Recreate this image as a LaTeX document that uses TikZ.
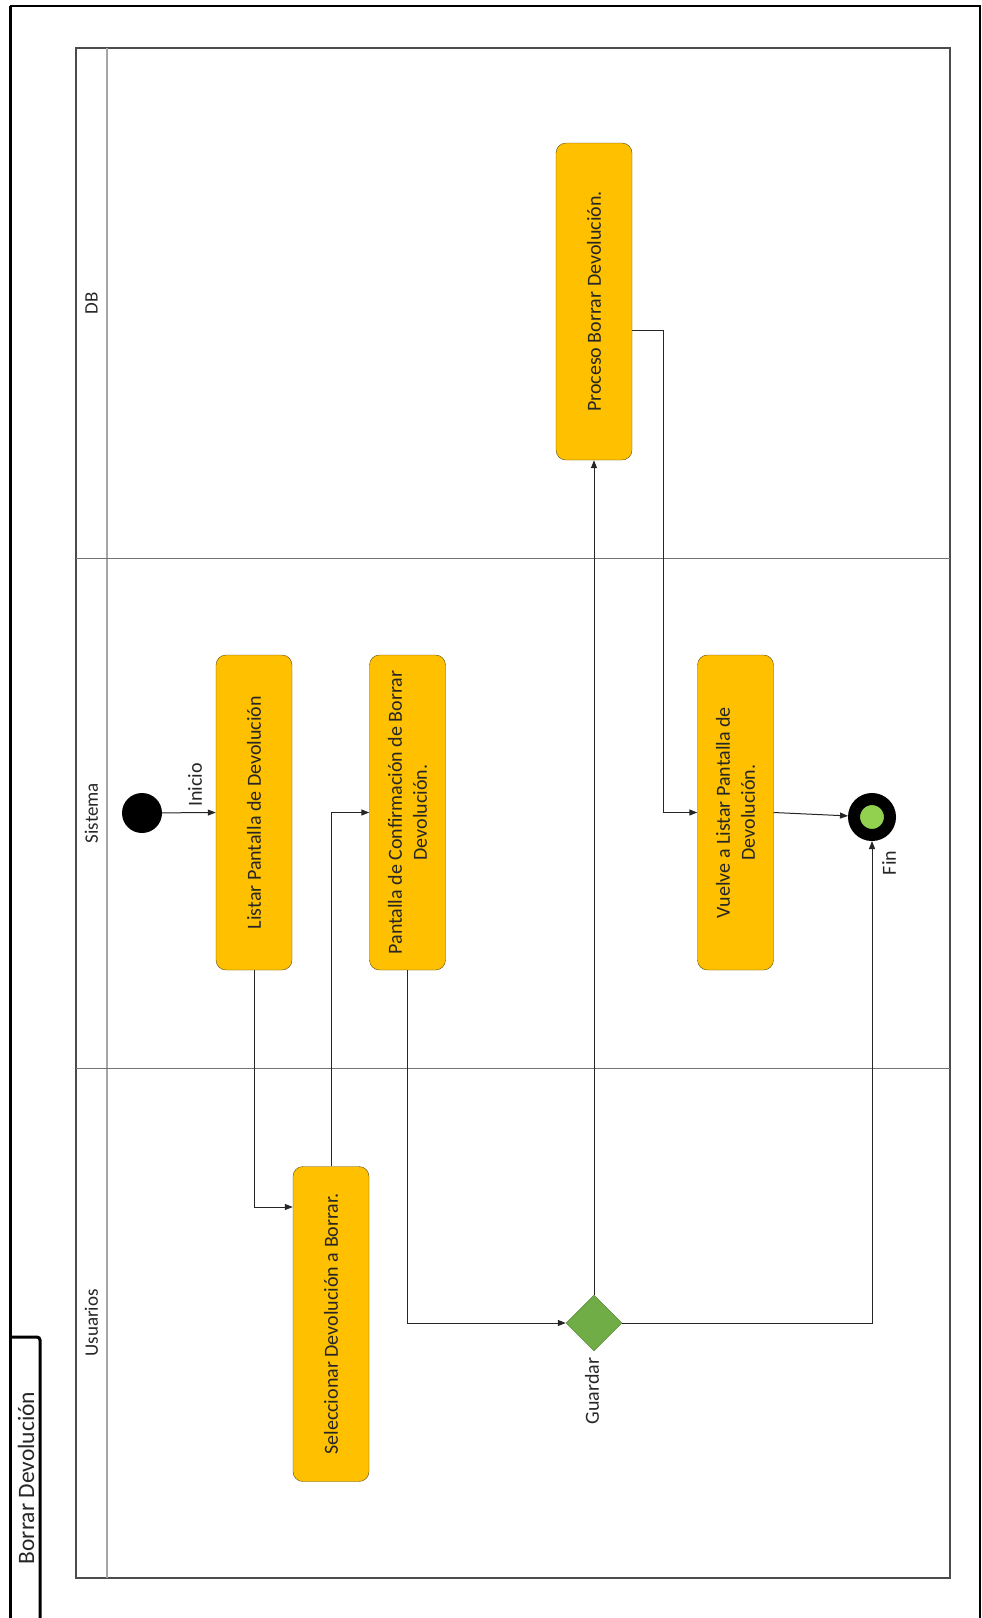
\documentclass[tikz,border=0pt]{standalone}
\usepackage{fontspec}
\setmainfont{Carlito}
\usetikzlibrary{arrows.meta,positioning,calc,shapes.geometric}

\definecolor{actfill}{HTML}{FFC000}
\definecolor{actline}{HTML}{5E4A10}
\definecolor{gwfill}{HTML}{70AD47}
\definecolor{gwline}{HTML}{4A7A2C}
\definecolor{endfill}{HTML}{92D050}
\definecolor{txt}{HTML}{262626}

\begin{document}
\begin{tikzpicture}[
  x=1pt, y=-1pt,
  act/.style={
    draw=actline, fill=actfill, rectangle, rounded corners=10pt,
    rotate=90, minimum width=315pt, minimum height=76pt,
    inner sep=4pt, align=center, text=txt,
    font=\fontsize{20}{25}\selectfont
  },
  lbl/.style={rotate=90, inner sep=0pt, text=txt,
    font=\fontsize{20}{24}\selectfont},
  lnk/.style={-{Triangle[length=8pt,width=6pt]}, line width=1pt, draw=black!85},
  lane/.style={draw=black!55, line width=1pt},
]
\useasboundingbox (0,0) rectangle (982,1618);

%% outer frame and title tab
\draw[line width=3pt] (10,1625) -- (10,6);
\draw[line width=1.6pt] (10,6) -- (980,6) -- (980,1625);
\draw[line width=3pt, rounded corners=3pt] (40,1625) -- (40,1337) -- (10,1337);
\node[lbl, font=\fontsize{23.5}{28}\selectfont] (ttl) at (26,1478) {Borrar Devolución};

%% pool with three lanes
\draw[lane, draw=black!70, line width=1.5pt] (76,48) rectangle (950,1578);
\draw[lane, draw=black!35, line width=1.5pt] (107,48) -- (107,1578);
\draw[lane] (76,558) -- (950,558);
\draw[lane] (76,1068) -- (950,1068);
\node[lbl, font=\fontsize{19}{23}\selectfont] (ldb) at (91.5,303) {DB};
\node[lbl, font=\fontsize{19}{23}\selectfont] (lsis) at (91.5,813) {Sistema};
\node[lbl, font=\fontsize{19}{23}\selectfont] (lusr) at (91.5,1323) {Usuarios};

%% activities
\node[act] (lst) at (254,812.5) {Listar Pantalla de Devolución};
\node[act] (cnf) at (407.5,812.5)
  {Pantalla de Confirmación de Borrar\\Devolución.};
\node[act] (vlv) at (735.5,812.5)
  {Vuelve a Listar Pantalla de\\Devolución.};
\node[act, minimum width=317pt] (prc) at (594,301.5)
  {Proceso Borrar Devolución.};
\node[act] (sel) at (331,1324) {Seleccionar Devolución a Borrar.};

%% start, end, decision
\node[circle, fill=black, minimum size=40pt, inner sep=0pt] (st) at (142,813) {};
\node[circle, draw=black, line width=12pt, fill=endfill,
  minimum size=36pt, inner sep=0pt] (fin) at (872,817) {};
\node[diamond, draw=gwline, fill=gwfill, minimum size=56pt,
  inner sep=0pt] (grd) at (594,1323) {};

\node[lbl] (ini) at (195,785) {Inicio};
\node[lbl] (gdl) at (592,1391) {Guardar};
\node[lbl] (fnl) at (889,863) {Fin};

%% flow
\draw[lnk] (st) -- (lst.north);
\draw[lnk] (lst.west) |- ([yshift=117pt]sel.north);
\draw[lnk] (sel.east) |- (cnf.north);
\draw[lnk] (cnf.west) |- (grd.west);
\draw[lnk] (grd.north) -- (prc.west);
\draw[lnk] (grd.east) -| (fin.south);
\draw[lnk] ([yshift=-28.5pt]prc.south) -- ++(31,0) |- (vlv.north);
\draw[lnk] (vlv.south) -- (fin);
\end{tikzpicture}
\end{document}
